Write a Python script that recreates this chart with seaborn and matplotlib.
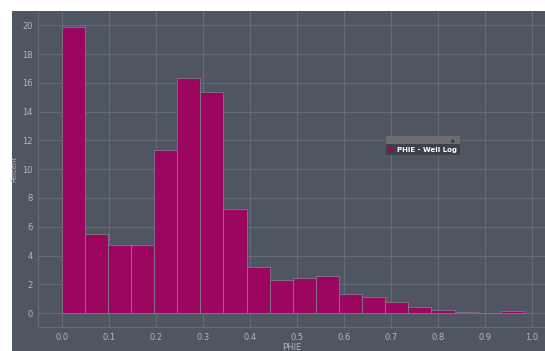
import numpy as np
import pandas as pd
import seaborn as sns
import matplotlib
matplotlib.use("Agg")
import matplotlib.pyplot as plt
from matplotlib.patches import Patch, Rectangle

# Porosity histogram: 20 equal bins over the PHIE range, percent of samples per bin
phie_min = 0.0
phie_max = 0.983
n_bins = 20
percent = [19.9, 5.5, 4.75, 4.75, 11.35, 16.33, 15.4, 7.25, 3.17, 2.32,
           2.43, 2.6, 1.34, 1.11, 0.77, 0.39, 0.23, 0.09, 0.03, 0.16]
x_ticks = [0.0, 0.1, 0.2, 0.3, 0.4, 0.5, 0.6, 0.7, 0.8, 0.9, 1.0]
y_ticks = [0, 2, 4, 6, 8, 10, 12, 14, 16, 18, 20]
series_name = "PHIE - Well Log"

edges = np.linspace(phie_min, phie_max, n_bins + 1)
centers = (edges[:-1] + edges[1:]) / 2
df = pd.DataFrame({"PHIE": centers, "Percent": percent})

panel = "#4f5662"
grid = "#636b77"
text = "#b2b6bd"
bar = "#9a0660"

sns.set_theme(style="darkgrid", rc={
    "axes.facecolor": panel,
    "axes.edgecolor": grid,
    "grid.color": grid,
    "grid.linewidth": 0.8,
    "xtick.color": text,
    "ytick.color": text,
    "axes.labelcolor": text,
})
plt.rcParams["font.family"] = ["DejaVu Sans"]

fig = plt.figure(figsize=(5.45, 3.51), dpi=100, facecolor="white")
# dark panel behind the plot
fig.add_artist(Rectangle((12 / 545, 0), 1 - 12 / 545, 1 - 11 / 351,
                         transform=fig.transFigure, facecolor=panel,
                         edgecolor="none", zorder=-10))
ax = fig.add_axes([38 / 545, 24 / 351, 1 - 38 / 545, (327 - 11) / 351])

sns.histplot(data=df, x="PHIE", weights="Percent", bins=n_bins,
             binrange=(phie_min, phie_max), stat="count",
             color=bar, alpha=1.0, edgecolor="#80788a", linewidth=0.6, ax=ax)

ax.set_xlim(-0.0504, 1.028)
ax.set_ylim(-0.97, 21.0)
ax.set_xticks(x_ticks)
ax.set_xticklabels([f"{v:.1f}" for v in x_ticks])
ax.set_yticks(y_ticks)
ax.tick_params(axis="both", length=0, labelsize=6, pad=4)
ax.set_xlabel("PHIE", fontsize=6, labelpad=1)
ax.set_ylabel("Percent", fontsize=5, labelpad=3)
for side in ["top", "right"]:
    ax.spines[side].set_visible(False)
for side in ["left", "bottom"]:
    ax.spines[side].set_visible(True)
    ax.spines[side].set_color(grid)
    ax.spines[side].set_linewidth(0.8)

leg = ax.legend(handles=[Patch(facecolor=bar, edgecolor="none", label=series_name)],
                loc="upper left", bbox_to_anchor=(0.686, 0.578), frameon=True,
                fontsize=5, handlelength=0.8, handleheight=0.8, handletextpad=0.5,
                borderpad=0.35, borderaxespad=0, fancybox=False)
leg.get_frame().set_facecolor("#3d4149")
leg.get_frame().set_edgecolor("none")
leg.get_frame().set_alpha(1.0)
for t in leg.get_texts():
    t.set_color("white")
    t.set_fontweight("bold")

# header strip above the legend with a small collapse arrow
fig.canvas.draw()
bb = leg.get_window_extent().transformed(ax.transAxes.inverted())
hdr_h = 0.026
ax.add_patch(Rectangle((bb.x0, bb.y1), bb.width, hdr_h, transform=ax.transAxes,
                       facecolor="#6c6d70", edgecolor="none", zorder=6, clip_on=False))
ax.text(bb.x1 - 0.01, bb.y1 + hdr_h / 2, "▲", transform=ax.transAxes, fontsize=3.5,
        color="#2c2e33", ha="right", va="center", zorder=7)

fig.savefig("out.png", dpi=100, facecolor="white")
